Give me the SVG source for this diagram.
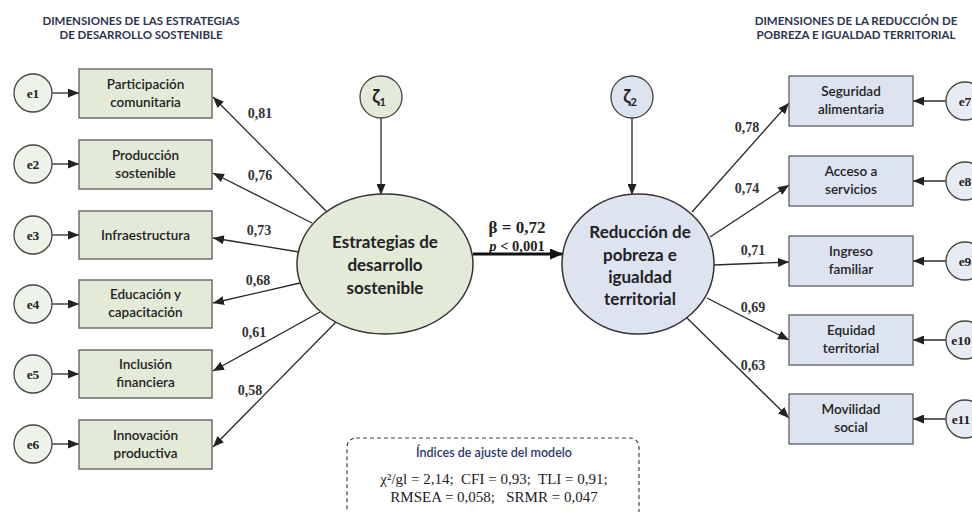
<svg xmlns="http://www.w3.org/2000/svg" width="972" height="512" viewBox="0 0 972 512">
<defs>
<marker id="ah" markerUnits="userSpaceOnUse" markerWidth="11" markerHeight="9" refX="11" refY="4.5" orient="auto"><path d="M0,0 L11,4.5 L0,9 z" fill="#222"/></marker>
<marker id="ahb" markerUnits="userSpaceOnUse" markerWidth="13" markerHeight="11" refX="13" refY="5.5" orient="auto"><path d="M0,0 L13,5.5 L0,11 z" fill="#111"/></marker>
</defs>
<style>
.title{font-family:Lato,"Liberation Sans",sans-serif;font-weight:700;font-size:11.5px;fill:#2c3550;text-anchor:middle}
.gbox{fill:#e3ebd8;stroke:#5a5a5a;stroke-width:1.3}
.bbox{fill:#dde4f0;stroke:#5a5f6a;stroke-width:1.3}
.ge{fill:#eef3ea;stroke:#444;stroke-width:1.3}
.be{fill:#e6ebf4;stroke:#444;stroke-width:1.3}
.lbl{font-family:Lato,"Liberation Sans",sans-serif;font-weight:600;font-size:13.5px;fill:#222;text-anchor:middle}
.big{font-family:Lato,"Liberation Sans",sans-serif;font-weight:700;font-size:17px;fill:#222;text-anchor:middle}
.etxt{font-family:"Liberation Serif",serif;font-weight:700;font-size:13.5px;fill:#222;text-anchor:middle}
.num{font-family:"Liberation Serif",serif;font-weight:700;font-size:14px;fill:#333;text-anchor:middle}
.ln{stroke:#2a2a2a;stroke-width:1.3;fill:none}
.zt{font-family:Lato,"Liberation Sans",sans-serif;font-weight:700;font-size:18px;fill:#222;text-anchor:middle}
.fit{font-family:"Liberation Serif",serif;font-size:15px;fill:#222;text-anchor:middle}
</style>
<rect width="972" height="512" fill="#ffffff"/>

<g id="titles">
<text class="title" x="141" y="25">DIMENSIONES DE LAS ESTRATEGIAS</text>
<text class="title" x="141" y="39">DE DESARROLLO SOSTENIBLE</text>
<text class="title" x="856" y="25">DIMENSIONES DE LA REDUCCIÓN DE</text>
<text class="title" x="856" y="39">POBREZA E IGUALDAD TERRITORIAL</text>
</g>

<g id="connectors">
<line class="ln" x1="52" y1="93" x2="79" y2="93" marker-end="url(#ah)"/>
<line class="ln" x1="52" y1="164" x2="79" y2="164" marker-end="url(#ah)"/>
<line class="ln" x1="52" y1="235" x2="79" y2="235" marker-end="url(#ah)"/>
<line class="ln" x1="52" y1="304" x2="79" y2="304" marker-end="url(#ah)"/>
<line class="ln" x1="52" y1="374" x2="79" y2="374" marker-end="url(#ah)"/>
<line class="ln" x1="52" y1="444" x2="79" y2="444" marker-end="url(#ah)"/>
<line class="ln" x1="327" y1="212" x2="213" y2="97" marker-end="url(#ah)"/>
<line class="ln" x1="312" y1="223" x2="213" y2="173" marker-end="url(#ah)"/>
<line class="ln" x1="299" y1="252" x2="213" y2="238" marker-end="url(#ah)"/>
<line class="ln" x1="300" y1="283" x2="213" y2="303" marker-end="url(#ah)"/>
<line class="ln" x1="320" y1="312" x2="213" y2="371" marker-end="url(#ah)"/>
<line class="ln" x1="336" y1="322" x2="213" y2="447" marker-end="url(#ah)"/>
<line class="ln" x1="381" y1="118" x2="381" y2="195" marker-end="url(#ah)"/>
<line class="ln" x1="632" y1="118" x2="632" y2="195" marker-end="url(#ah)"/>
<line x1="473" y1="254" x2="563" y2="254" stroke="#111" stroke-width="2.8" marker-end="url(#ahb)"/>
<line class="ln" x1="692" y1="212" x2="789" y2="103" marker-end="url(#ah)"/>
<line class="ln" x1="710" y1="237" x2="789" y2="185" marker-end="url(#ah)"/>
<line class="ln" x1="714" y1="265" x2="789" y2="262" marker-end="url(#ah)"/>
<line class="ln" x1="707" y1="298" x2="789" y2="340" marker-end="url(#ah)"/>
<line class="ln" x1="687" y1="318" x2="789" y2="418" marker-end="url(#ah)"/>
<line class="ln" x1="946" y1="101" x2="913" y2="101" marker-end="url(#ah)"/>
<line class="ln" x1="946" y1="181" x2="913" y2="181" marker-end="url(#ah)"/>
<line class="ln" x1="946" y1="261" x2="913" y2="261" marker-end="url(#ah)"/>
<line class="ln" x1="946" y1="340" x2="913" y2="340" marker-end="url(#ah)"/>
<line class="ln" x1="946" y1="419" x2="913" y2="419" marker-end="url(#ah)"/>
<text class="num" x="260" y="118">0,81</text>
<text class="num" x="260" y="180">0,76</text>
<text class="num" x="259" y="235">0,73</text>
<text class="num" x="258" y="285">0,68</text>
<text class="num" x="254" y="337">0,61</text>
<text class="num" x="250" y="395">0,58</text>
<text class="num" x="747" y="132">0,78</text>
<text class="num" x="747" y="193">0,74</text>
<text class="num" x="753" y="255">0,71</text>
<text class="num" x="753" y="312">0,69</text>
<text class="num" x="753" y="370">0,63</text>
<text font-family="Liberation Serif,serif" font-weight="700" font-size="17px" fill="#222" text-anchor="middle" x="517" y="233">β = 0,72</text>
<text font-family="Liberation Serif,serif" font-weight="700" font-size="14.5px" fill="#222" text-anchor="middle" x="517" y="251"><tspan font-style="italic">p</tspan> &lt; 0,001</text>
</g>

<g id="e1"><circle class="ge" cx="33" cy="93" r="19"/><text class="etxt" x="33" y="97.5">e1</text></g>
<g id="e2"><circle class="ge" cx="33" cy="164" r="19"/><text class="etxt" x="33" y="168.5">e2</text></g>
<g id="e3"><circle class="ge" cx="33" cy="235" r="19"/><text class="etxt" x="33" y="239.5">e3</text></g>
<g id="e4"><circle class="ge" cx="33" cy="304" r="19"/><text class="etxt" x="33" y="308.5">e4</text></g>
<g id="e5"><circle class="ge" cx="33" cy="374" r="19"/><text class="etxt" x="33" y="378.5">e5</text></g>
<g id="e6"><circle class="ge" cx="33" cy="444" r="19"/><text class="etxt" x="33" y="448.5">e6</text></g>

<g id="participacion"><rect class="gbox" x="79" y="69" width="133" height="49"/><text class="lbl" x="145.5" y="89">Participación</text><text class="lbl" x="145.5" y="107">comunitaria</text></g>
<g id="produccion"><rect class="gbox" x="79" y="140" width="133" height="49"/><text class="lbl" x="145.5" y="160">Producción</text><text class="lbl" x="145.5" y="178">sostenible</text></g>
<g id="infraestructura"><rect class="gbox" x="79" y="211" width="133" height="48"/><text class="lbl" x="145.5" y="239.5">Infraestructura</text></g>
<g id="educacion"><rect class="gbox" x="79" y="280" width="133" height="48"/><text class="lbl" x="145.5" y="299">Educación y</text><text class="lbl" x="145.5" y="317">capacitación</text></g>
<g id="inclusion"><rect class="gbox" x="79" y="350" width="133" height="48"/><text class="lbl" x="145.5" y="369">Inclusión</text><text class="lbl" x="145.5" y="387">financiera</text></g>
<g id="innovacion"><rect class="gbox" x="79" y="420" width="133" height="49"/><text class="lbl" x="145.5" y="440">Innovación</text><text class="lbl" x="145.5" y="458">productiva</text></g>

<g id="zeta1"><circle cx="381" cy="97" r="21" fill="#e3ebd8" stroke="#444" stroke-width="1.3"/><text class="zt" x="379" y="103">ζ<tspan font-size="11px" dy="3">1</tspan></text></g>
<g id="zeta2"><circle cx="632" cy="97" r="21" fill="#dde4f0" stroke="#444" stroke-width="1.3"/><text class="zt" x="630" y="103">ζ<tspan font-size="11px" dy="3">2</tspan></text></g>

<g id="estrategias"><ellipse cx="385" cy="264" rx="88" ry="70" fill="#e3ebd8" stroke="#333" stroke-width="1.5"/><text class="big" x="385" y="248">Estrategias de</text><text class="big" x="385" y="271">desarrollo</text><text class="big" x="385" y="294">sostenible</text></g>
<g id="reduccion"><ellipse cx="638" cy="264" rx="76" ry="70" fill="#dde4f0" stroke="#333" stroke-width="1.5"/><text class="big" x="640" y="238">Reducción de</text><text class="big" x="640" y="261">pobreza e</text><text class="big" x="640" y="283">igualdad</text><text class="big" x="640" y="305">territorial</text></g>

<g id="seguridad"><rect class="bbox" x="789" y="76" width="124" height="50"/><text class="lbl" x="851" y="96">Seguridad</text><text class="lbl" x="851" y="114">alimentaria</text></g>
<g id="acceso"><rect class="bbox" x="789" y="156" width="124" height="50"/><text class="lbl" x="851" y="176">Acceso a</text><text class="lbl" x="851" y="194">servicios</text></g>
<g id="ingreso"><rect class="bbox" x="789" y="236" width="124" height="50"/><text class="lbl" x="851" y="256">Ingreso</text><text class="lbl" x="851" y="274">familiar</text></g>
<g id="equidad"><rect class="bbox" x="789" y="315" width="124" height="50"/><text class="lbl" x="851" y="335">Equidad</text><text class="lbl" x="851" y="353">territorial</text></g>
<g id="movilidad"><rect class="bbox" x="789" y="394" width="124" height="50"/><text class="lbl" x="851" y="414">Movilidad</text><text class="lbl" x="851" y="432">social</text></g>

<g id="e7"><circle class="be" cx="965" cy="101" r="19"/><text class="etxt" x="965" y="105.5">e7</text></g>
<g id="e8"><circle class="be" cx="965" cy="181" r="19"/><text class="etxt" x="965" y="185.5">e8</text></g>
<g id="e9"><circle class="be" cx="965" cy="261" r="19"/><text class="etxt" x="965" y="265.5">e9</text></g>
<g id="e10"><circle class="be" cx="965" cy="340" r="19"/><text class="etxt" x="961" y="344.5" font-size="12px">e10</text></g>
<g id="e11"><circle class="be" cx="965" cy="419" r="19"/><text class="etxt" x="961" y="423.5" font-size="12px">e11</text></g>

<g id="fit">
<rect x="347" y="438" width="292" height="90" rx="9" fill="none" stroke="#444" stroke-width="1.2" stroke-dasharray="4,3"/>
<text font-family="Lato,'Liberation Sans',sans-serif" font-weight="600" font-size="12.5px" fill="#2c3a66" text-anchor="middle" x="494" y="457">Índices de ajuste del modelo</text>
<text class="fit" x="494" y="484" xml:space="preserve">χ²/gl = 2,14;  CFI = 0,93;  TLI = 0,91;</text>
<text class="fit" x="494" y="502" xml:space="preserve">RMSEA = 0,058;   SRMR = 0,047</text>
</g>
</svg>
